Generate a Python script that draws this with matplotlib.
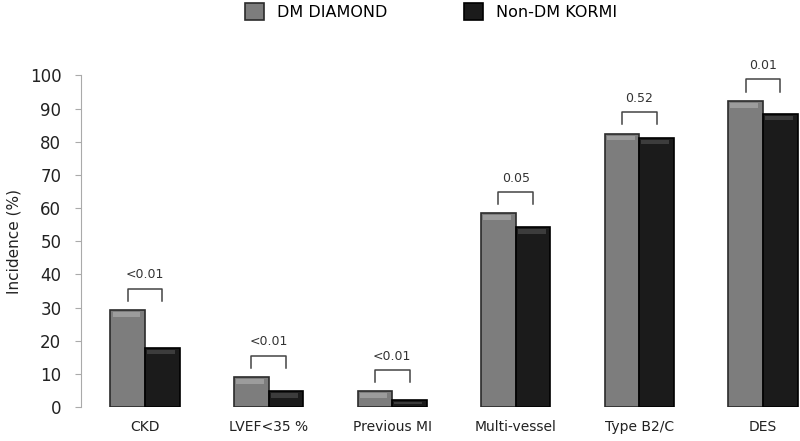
import numpy as np
import matplotlib.pyplot as plt

categories = ['CKD', 'LVEF<35 %', 'Previous MI', 'Multi-vessel', 'Type B2/C', 'DES']
dm_diamond = [29.2, 9.0, 4.7, 58.4, 82.4, 92.3]
non_dm_kormi = [17.9, 4.7, 2.2, 54.2, 81.2, 88.5]
p_values = ['<0.01', '<0.01', '<0.01', '0.05', '0.52', '0.01']

x = np.arange(len(categories))
w = 0.28

fig = plt.figure(figsize=(8, 4.41), dpi=100)
ax = fig.add_axes([0.101, 0.077, 0.899, 0.752])

# main bars
b1 = ax.bar(x - w/2, dm_diamond, w, color='#7d7d7d', edgecolor='#2b2b2b', linewidth=1.2,
            label='DM DIAMOND')
b2 = ax.bar(x + w/2, non_dm_kormi, w, color='#1b1b1b', edgecolor='#000000', linewidth=1.2,
            label='Non-DM KORMI')

# bevel highlight near the top of each bar
for xs, vals, hc in [(x - w/2, dm_diamond, '#9c9c9c'), (x + w/2, non_dm_kormi, '#3c3c3c')]:
    for xi, v in zip(xs, vals):
        h = min(1.4, v * 0.35)
        ax.bar(xi - w*0.04, h, w*0.8, bottom=v - h - 0.6, color=hc, linewidth=0)

# brackets with p values
for i, p in enumerate(p_values):
    top = max(dm_diamond[i], non_dm_kormi[i]) + 6.5
    xl, xr = x[i] - w/2, x[i] + w/2
    ax.plot([xl, xl, xr, xr], [top - 3.7, top, top, top - 3.7], color='#444444',
            lw=1.1, clip_on=False)
    ax.text(x[i], top + 2.2, p, ha='center', va='bottom', fontsize=9, color='#333333',
            clip_on=False)

ax.set_ylim(0, 100)
ax.set_xlim(-0.52, 5.3)
ax.set_yticks(range(0, 101, 10))
ax.set_xticks(x)
ax.set_xticklabels(categories, fontsize=10, color='#222222')
ax.tick_params(axis='x', length=0, pad=9)
ax.tick_params(axis='y', labelsize=12, length=4, color='#aaaaaa', pad=10,
               labelcolor='#222222')
ax.set_ylabel('Incidence (%)', fontsize=11, labelpad=6, color='#222222')

for s in ['top', 'right', 'bottom']:
    ax.spines[s].set_visible(False)
ax.spines['left'].set_color('#aaaaaa')

fig.legend(handles=[b1, b2], loc='upper center', bbox_to_anchor=(0.539, 1.025), ncol=2,
           frameon=False, fontsize=11.5, columnspacing=4.8, handlelength=1.2,
           handleheight=1.2)

fig.savefig('out.png', dpi=100)
